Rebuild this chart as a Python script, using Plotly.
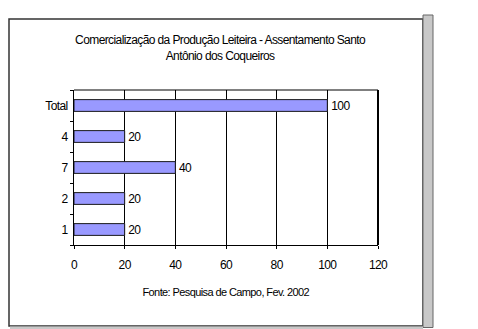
import plotly.graph_objects as go

categories = ["1", "2", "7", "4", "Total"]
values = [20, 20, 40, 20, 100]
x_ticks = [0, 20, 40, 60, 80, 100, 120]

W, H = 478, 329
L, R, T, B = 74, 378, 90, 245
FONT = "Liberation Sans, Arial, sans-serif"

def px(x):
    return (x - L) / (R - L)

def py(y):
    return (B - y) / (B - T)

fig = go.Figure()
fig.add_trace(go.Bar(
    y=categories, x=values, orientation="h",
    marker=dict(color="#9999FF", line=dict(color="#1a1a1a", width=1)),
    text=[str(v) for v in values], textposition="outside",
    textfont=dict(family=FONT, size=12, color="black"),
    constraintext="none",
    cliponaxis=False, width=0.38,
))

shapes = [
    dict(type="rect", xref="paper", yref="paper", x0=px(9), x1=px(423), y0=py(326), y1=py(19),
         line=dict(color="#333333", width=1.5), layer="below"),
    dict(type="rect", xref="paper", yref="paper", x0=px(423), x1=px(433), y0=py(327.5), y1=py(15),
         line=dict(color="#666666", width=1), fillcolor="#C8C8C8", layer="below"),
    dict(type="rect", xref="paper", yref="paper", x0=px(10), x1=px(423), y0=py(329), y1=py(326.5),
         line=dict(width=0), fillcolor="#C8C8C8", layer="below"),
    dict(type="line", xref="paper", yref="paper", x0=0, x1=1, y0=1, y1=1,
         line=dict(color="black", width=1)),
    dict(type="line", xref="paper", yref="paper", x0=1, x1=1, y0=0, y1=1,
         line=dict(color="black", width=2)),
]

annotations = [
    dict(text="Comercialização da Produção Leiteira - Assentamento Santo<br>Antônio dos Coqueiros",
         xref="paper", yref="paper", x=px(220), y=py(48), xanchor="center", yanchor="middle",
         showarrow=False, font=dict(family=FONT, size=12, color="black"), align="center"),
    dict(text="Fonte: Pesquisa de Campo, Fev. 2002",
         xref="paper", yref="paper", x=px(226), y=py(292), xanchor="center", yanchor="middle",
         showarrow=False, font=dict(family=FONT, size=11, color="black")),
]

fig.update_layout(
    width=W, height=H,
    margin=dict(l=L, r=W - R, t=T, b=H - B),
    paper_bgcolor="white", plot_bgcolor="white",
    showlegend=False,
    font=dict(family=FONT, size=12, color="black"),
    xaxis=dict(range=[0, 120], tickvals=x_ticks, ticktext=[str(v) for v in x_ticks],
               showgrid=True, gridcolor="black", gridwidth=1,
               showline=True, linecolor="black", linewidth=1,
               ticks="outside", ticklen=3, tickcolor="black", zeroline=False,
               ticklabelstandoff=6,
               tickfont=dict(family=FONT, size=12), fixedrange=True),
    yaxis=dict(type="category", categoryorder="array", categoryarray=categories,
               showgrid=False, showline=True, linecolor="black", linewidth=1,
               ticks="outside", tickson="boundaries", ticklen=3, tickcolor="black",
               ticklabelstandoff=3,
               tickfont=dict(family=FONT, size=12), fixedrange=True),
    shapes=shapes, annotations=annotations,
)

fig.write_html("out.html", config={"displayModeBar": False},
               post_script="document.body.style.margin='0';"
                           "var s=document.createElement('style');"
                           "s.textContent='.main-svg text{letter-spacing:-0.6px;}';"
                           "document.head.appendChild(s);")
